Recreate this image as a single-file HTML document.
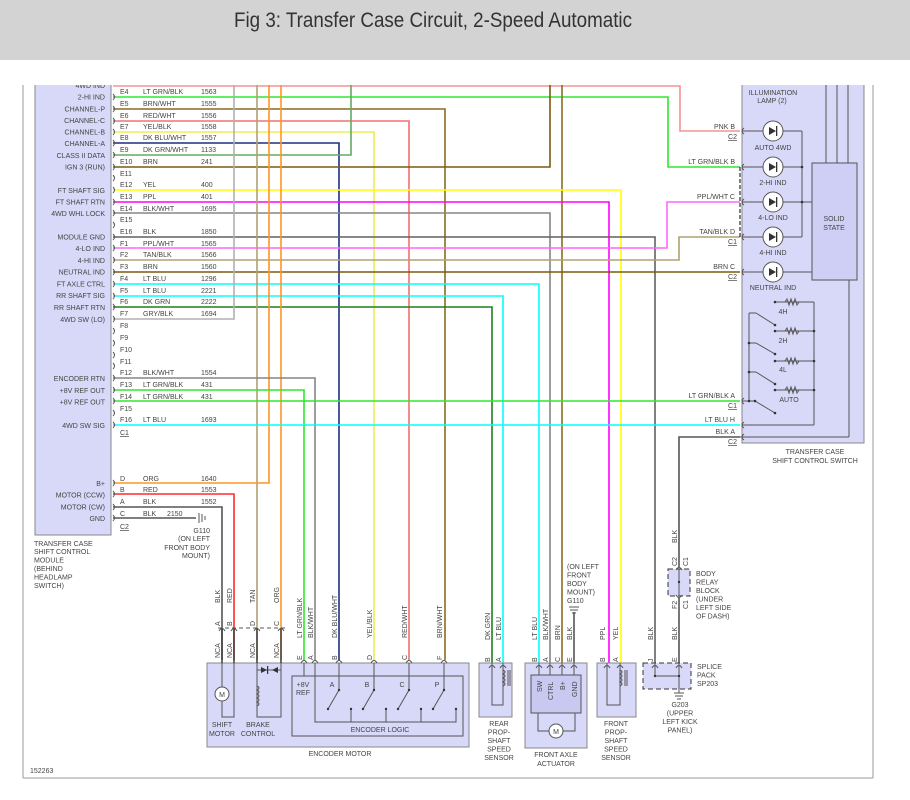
<!DOCTYPE html>
<html><head><meta charset="utf-8">
<style>
html,body{margin:0;padding:0;background:#fff;}
svg{display:block;}
text{font-family:"Liberation Sans",Arial,sans-serif;fill:#444;font-size:7px;}
.t{font-size:7.3px;}
.title{font-family:"Liberation Sans Narrow","Liberation Sans",sans-serif;font-size:21px;fill:#333;}
.w{fill:none;stroke-width:1.6;}
.k{fill:none;stroke:#555;stroke-width:1;}
</style></head><body>
<svg width="910" height="800" viewBox="0 0 910 800" xmlns="http://www.w3.org/2000/svg">
<rect x="0" y="0" width="910" height="60" fill="#d3d3d3"/>
<text class="title" x="234" y="27" textLength="398" lengthAdjust="spacingAndGlyphs">Fig 3: Transfer Case Circuit, 2-Speed Automatic</text>

<!-- borders -->
<line x1="23" y1="85" x2="23" y2="778" stroke="#999" stroke-width="1"/>
<line x1="873" y1="85" x2="873" y2="778" stroke="#999" stroke-width="1"/>
<line x1="23" y1="778" x2="873" y2="778" stroke="#999" stroke-width="1"/>

<!-- module -->
<rect x="35" y="85" width="76" height="450" fill="#d8d8f8"/>
<polyline points="35,85 35,535 111,535 111,85" fill="none" stroke="#888" stroke-width="1"/>
<g class="t" text-anchor="end">
<text x="105" y="88">4WD IND</text>
<text x="105" y="99.5">2-HI IND</text>
<text x="105" y="111.5">CHANNEL-P</text>
<text x="105" y="123">CHANNEL-C</text>
<text x="105" y="134.5">CHANNEL-B</text>
<text x="105" y="146">CHANNEL-A</text>
<text x="105" y="158">CLASS II DATA</text>
<text x="105" y="169.5">IGN 3 (RUN)</text>
<text x="105" y="193">FT SHAFT SIG</text>
<text x="105" y="204.5">FT SHAFT RTN</text>
<text x="105" y="216">4WD WHL LOCK</text>
<text x="105" y="239.5">MODULE GND</text>
<text x="105" y="251">4-LO IND</text>
<text x="105" y="263">4-HI IND</text>
<text x="105" y="274.5">NEUTRAL IND</text>
<text x="105" y="286.5">FT AXLE CTRL</text>
<text x="105" y="298">RR SHAFT SIG</text>
<text x="105" y="310">RR SHAFT RTN</text>
<text x="105" y="322">4WD SW (LO)</text>
<text x="105" y="381">ENCODER RTN</text>
<text x="105" y="393">+8V REF OUT</text>
<text x="105" y="404.5">+8V REF OUT</text>
<text x="105" y="428">4WD SW SIG</text>
<text x="105" y="486">B+</text>
<text x="105" y="497.5">MOTOR (CCW)</text>
<text x="105" y="509.5">MOTOR (CW)</text>
<text x="105" y="521">GND</text>
</g>
<rect x="24" y="60" width="848" height="25" fill="#fff"/>
<g class="t">
<text x="34" y="546">TRANSFER CASE</text>
<text x="34" y="554">SHIFT CONTROL</text>
<text x="34" y="562.5">MODULE</text>
<text x="34" y="571">(BEHIND</text>
<text x="34" y="579.5">HEADLAMP</text>
<text x="34" y="588">SWITCH)</text>
<text x="30" y="773">152263</text>
</g>

<!-- wires -->
<g class="w">
<polyline points="113,86 680,86 680,131 740,131" stroke="#f49494"/>
<polyline points="113,97 668,97 668,167 740,167" stroke="#2ee82e"/>
<polyline points="113,109 445,109 445,660" stroke="#8a6c20"/>
<polyline points="113,121 409,121 409,660" stroke="#f27070"/>
<polyline points="113,132 374,132 374,660" stroke="#eded55"/>
<polyline points="113,143 339,143 339,660" stroke="#1e2e80"/>
<polyline points="113,155 351,155 351,85" stroke="#62aa62"/>
<polyline points="113,167 550,167 550,85" stroke="#7a5a10"/>
<polyline points="562,85 562,665" stroke="#8a6c20"/>
<polyline points="113,190 621,190 621,665" stroke="#ffff00"/>
<polyline points="113,202 609,202 609,665" stroke="#ff00ff"/>
<polyline points="113,213 550,213 550,665" stroke="#858585"/>
<polyline points="113,237 655,237 655,665" stroke="#606060"/>
<polyline points="113,248 667,248 667,202 740,202" stroke="#ff66ff"/>
<polyline points="113,260 679,260 679,237 740,237" stroke="#b0a275"/>
<polyline points="113,272 740,272" stroke="#7a5a10"/>
<polyline points="113,284 539,284 539,665" stroke="#00ffff"/>
<polyline points="113,296 503,296 503,665" stroke="#00ffff"/>
<polyline points="113,307 492,307 492,665" stroke="#1f801f"/>
<polyline points="113,319 234,319 234,85" stroke="#b0b0b0"/>
<polyline points="257,85 257,660" stroke="#b0a275"/>
<polyline points="113,483 269,483 269,85" stroke="#ff9522"/>
<polyline points="281,85 281,660" stroke="#ff9522"/>
<polyline points="113,378 315,378 315,660" stroke="#858585"/>
<polyline points="113,390 304,390 304,660" stroke="#2ee82e"/>
<polyline points="113,401 740,401" stroke="#2ee82e"/>
<polyline points="113,425 740,425" stroke="#00ffff"/>
<polyline points="113,494 234,494 234,660" stroke="#ff2a2a"/>
<polyline points="113,507 222,507 222,660" stroke="#555"/>
<polyline points="113,518 196,518" stroke="#555"/>
<polyline points="740,437 679,437 679,567" stroke="#555"/>
<polyline points="679,598 679,665" stroke="#555"/>
<polyline points="574,612 574,665" stroke="#555"/>
</g>

<!-- module pin marks and labels -->
<g class="k">
<path d="M113,94 q3,3 0,6"/><path d="M113,106 q3,3 0,6"/><path d="M113,118 q3,3 0,6"/><path d="M113,129 q3,3 0,6"/><path d="M113,140 q3,3 0,6"/><path d="M113,152 q3,3 0,6"/><path d="M113,164 q3,3 0,6"/><path d="M113,175 q3,3 0,6"/><path d="M113,187 q3,3 0,6"/><path d="M113,199 q3,3 0,6"/><path d="M113,210 q3,3 0,6"/><path d="M113,222 q3,3 0,6"/><path d="M113,234 q3,3 0,6"/><path d="M113,245 q3,3 0,6"/><path d="M113,257 q3,3 0,6"/><path d="M113,269 q3,3 0,6"/><path d="M113,281 q3,3 0,6"/><path d="M113,293 q3,3 0,6"/><path d="M113,304 q3,3 0,6"/><path d="M113,316 q3,3 0,6"/><path d="M113,328 q3,3 0,6"/><path d="M113,340 q3,3 0,6"/><path d="M113,352 q3,3 0,6"/><path d="M113,363 q3,3 0,6"/><path d="M113,375 q3,3 0,6"/><path d="M113,387 q3,3 0,6"/><path d="M113,398 q3,3 0,6"/><path d="M113,410 q3,3 0,6"/><path d="M113,422 q3,3 0,6"/><path d="M113,480 q3,3 0,6"/><path d="M113,491 q3,3 0,6"/><path d="M113,504 q3,3 0,6"/><path d="M113,515 q3,3 0,6"/>
</g>
<g>
<text x="120" y="94">E4</text><text x="143" y="94">LT GRN/BLK</text><text x="201" y="94">1563</text>
<text x="120" y="106">E5</text><text x="143" y="106">BRN/WHT</text><text x="201" y="106">1555</text>
<text x="120" y="118">E6</text><text x="143" y="118">RED/WHT</text><text x="201" y="118">1556</text>
<text x="120" y="129">E7</text><text x="143" y="129">YEL/BLK</text><text x="201" y="129">1558</text>
<text x="120" y="140">E8</text><text x="143" y="140">DK BLU/WHT</text><text x="201" y="140">1557</text>
<text x="120" y="152">E9</text><text x="143" y="152">DK GRN/WHT</text><text x="201" y="152">1133</text>
<text x="120" y="164">E10</text><text x="143" y="164">BRN</text><text x="201" y="164">241</text>
<text x="120" y="176">E11</text>
<text x="120" y="187">E12</text><text x="143" y="187">YEL</text><text x="201" y="187">400</text>
<text x="120" y="199">E13</text><text x="143" y="199">PPL</text><text x="201" y="199">401</text>
<text x="120" y="211">E14</text><text x="143" y="211">BLK/WHT</text><text x="201" y="211">1695</text>
<text x="120" y="222">E15</text>
<text x="120" y="234">E16</text><text x="143" y="234">BLK</text><text x="201" y="234">1850</text>
<text x="120" y="246">F1</text><text x="143" y="246">PPL/WHT</text><text x="201" y="246">1565</text>
<text x="120" y="257">F2</text><text x="143" y="257">TAN/BLK</text><text x="201" y="257">1566</text>
<text x="120" y="269">F3</text><text x="143" y="269">BRN</text><text x="201" y="269">1560</text>
<text x="120" y="281">F4</text><text x="143" y="281">LT BLU</text><text x="201" y="281">1296</text>
<text x="120" y="293">F5</text><text x="143" y="293">LT BLU</text><text x="201" y="293">2221</text>
<text x="120" y="304">F6</text><text x="143" y="304">DK GRN</text><text x="201" y="304">2222</text>
<text x="120" y="316">F7</text><text x="143" y="316">GRY/BLK</text><text x="201" y="316">1694</text>
<text x="120" y="328">F8</text><text x="120" y="340">F9</text><text x="120" y="352">F10</text><text x="120" y="364">F11</text>
<text x="120" y="375">F12</text><text x="143" y="375">BLK/WHT</text><text x="201" y="375">1554</text>
<text x="120" y="387">F13</text><text x="143" y="387">LT GRN/BLK</text><text x="201" y="387">431</text>
<text x="120" y="399">F14</text><text x="143" y="399">LT GRN/BLK</text><text x="201" y="399">431</text>
<text x="120" y="411">F15</text>
<text x="120" y="422">F16</text><text x="143" y="422">LT BLU</text><text x="201" y="422">1693</text>
<text x="120" y="435" text-decoration="underline">C1</text>
<text x="120" y="481">D</text><text x="143" y="481">ORG</text><text x="201" y="481">1640</text>
<text x="120" y="492">B</text><text x="143" y="492">RED</text><text x="201" y="492">1553</text>
<text x="120" y="504">A</text><text x="143" y="504">BLK</text><text x="201" y="504">1552</text>
<text x="120" y="516">C</text><text x="143" y="516">BLK</text><text x="167" y="516">2150</text>
<text x="120" y="529" text-decoration="underline">C2</text>
</g>
<!-- G110 left -->
<g stroke="#555" stroke-width="1"><line x1="199" y1="513" x2="199" y2="523"/><line x1="202" y1="514" x2="202" y2="522"/><line x1="205" y1="516" x2="205" y2="520"/></g>
<g text-anchor="end"><text x="210" y="533">G110</text><text x="210" y="541">(ON LEFT</text><text x="210" y="550">FRONT BODY</text><text x="210" y="558">MOUNT)</text></g>

<!-- switch box -->
<rect x="742" y="85" width="122" height="358" fill="#d8d8f8"/>
<polyline points="742,85 742,443 864,443 864,85" fill="none" stroke="#888" stroke-width="1"/>
<g stroke="#555" stroke-width="1" fill="none">
<line x1="826" y1="85" x2="826" y2="163"/><line x1="837" y1="85" x2="837" y2="163"/><line x1="848" y1="85" x2="848" y2="163"/>
<line x1="849" y1="280" x2="849" y2="437"/><line x1="740" y1="437" x2="849" y2="437"/>
<line x1="742" y1="131" x2="802" y2="131"/><line x1="742" y1="167" x2="802" y2="167"/><line x1="742" y1="202" x2="812" y2="202"/><line x1="742" y1="237" x2="802" y2="237"/><line x1="742" y1="272" x2="812" y2="272"/>
<line x1="802" y1="131" x2="802" y2="237"/>
<line x1="775" y1="302" x2="814" y2="302"/><line x1="775" y1="331" x2="814" y2="331"/><line x1="775" y1="361" x2="814" y2="361"/><line x1="775" y1="390" x2="814" y2="390"/>
<line x1="814" y1="302" x2="814" y2="425"/><line x1="742" y1="425" x2="814" y2="425"/>
<line x1="749" y1="313" x2="749" y2="401"/><line x1="742" y1="401" x2="755" y2="401"/>
<line x1="749" y1="313" x2="756" y2="313"/><line x1="756" y1="313" x2="775" y2="325"/>
<line x1="749" y1="343" x2="756" y2="343"/><line x1="756" y1="343" x2="775" y2="354"/>
<line x1="749" y1="372" x2="756" y2="372"/><line x1="756" y1="372" x2="775" y2="384"/>
<line x1="755" y1="401" x2="775" y2="413"/>
<line x1="740" y1="167" x2="740" y2="237" stroke="#000" stroke-dasharray="4,2"/>
</g>
<g fill="#fff" stroke="#555" stroke-width="1">
<path d="M785,302 l2,-3 l2,6 l2,-6 l2,6 l2,-6 l2,6 l2,-3" fill="none"/>
<path d="M785,331 l2,-3 l2,6 l2,-6 l2,6 l2,-6 l2,6 l2,-3" fill="none"/>
<path d="M785,361 l2,-3 l2,6 l2,-6 l2,6 l2,-6 l2,6 l2,-3" fill="none"/>
<path d="M785,390 l2,-3 l2,6 l2,-6 l2,6 l2,-6 l2,6 l2,-3" fill="none"/>
<rect x="812" y="163" width="45" height="117" fill="#cfcff5"/>
<circle cx="773" cy="131" r="10"/><circle cx="773" cy="167" r="10"/><circle cx="773" cy="202" r="10"/><circle cx="773" cy="237" r="10"/><circle cx="773" cy="272" r="10"/>
</g>
<g fill="#333">
<path d="M769,127 l0,8 l7,-4z"/><path d="M769,163 l0,8 l7,-4z"/><path d="M769,198 l0,8 l7,-4z"/><path d="M769,233 l0,8 l7,-4z"/><path d="M769,268 l0,8 l7,-4z"/>
<rect x="776" y="126" width="1.3" height="10"/><rect x="776" y="162" width="1.3" height="10"/><rect x="776" y="197" width="1.3" height="10"/><rect x="776" y="232" width="1.3" height="10"/><rect x="776" y="267" width="1.3" height="10"/>
<circle cx="802" cy="167" r="1.3"/><circle cx="802" cy="202" r="1.3"/><circle cx="814" cy="331" r="1.3"/><circle cx="814" cy="361" r="1.3"/><circle cx="814" cy="390" r="1.3"/>
<circle cx="749" cy="343" r="1.3"/><circle cx="749" cy="372" r="1.3"/><circle cx="749" cy="401" r="1.3"/><circle cx="755" cy="401" r="1.3"/>
<circle cx="775" cy="325" r="1.3"/><circle cx="775" cy="354" r="1.3"/><circle cx="775" cy="384" r="1.3"/><circle cx="775" cy="413" r="1.3"/>
<circle cx="775" cy="302" r="1.3"/><circle cx="775" cy="331" r="1.3"/><circle cx="775" cy="361" r="1.3"/><circle cx="775" cy="390" r="1.3"/>
</g>
<g class="k">
<path d="M744,128 q-4,3 0,6"/><path d="M744,164 q-4,3 0,6"/><path d="M744,199 q-4,3 0,6"/><path d="M744,234 q-4,3 0,6"/><path d="M744,269 q-4,3 0,6"/><path d="M744,398 q-4,3 0,6"/><path d="M744,422 q-4,3 0,6"/><path d="M744,434 q-4,3 0,6"/>
</g>
<g text-anchor="middle">
<text x="773" y="95">ILLUMINATION</text><text x="772" y="103">LAMP (2)</text>
<text x="773" y="150">AUTO 4WD</text><text x="773" y="185">2-HI IND</text><text x="773" y="220">4-LO IND</text><text x="773" y="255">4-HI IND</text><text x="773" y="290">NEUTRAL IND</text>
<text x="834" y="221">SOLID</text><text x="834" y="230">STATE</text>
<text x="783" y="314">4H</text><text x="783" y="343">2H</text><text x="783" y="372">4L</text><text x="789" y="402">AUTO</text>
<text x="815" y="454">TRANSFER CASE</text><text x="815" y="463">SHIFT CONTROL SWITCH</text>
</g>
<g text-anchor="end">
<text x="735" y="129">PNK  B</text><text x="737" y="139" text-decoration="underline">C2</text>
<text x="735" y="164">LT GRN/BLK  B</text>
<text x="735" y="199">PPL/WHT  C</text>
<text x="735" y="234">TAN/BLK  D</text><text x="737" y="244" text-decoration="underline">C1</text>
<text x="735" y="269">BRN  C</text><text x="737" y="279" text-decoration="underline">C2</text>
<text x="735" y="398">LT GRN/BLK  A</text><text x="737" y="408" text-decoration="underline">C1</text>
<text x="735" y="422">LT BLU  H</text>
<text x="735" y="434">BLK  A</text><text x="737" y="444" text-decoration="underline">C2</text>
</g>

<!-- encoder motor -->
<rect x="207" y="663" width="262" height="84" fill="#d8d8f8" stroke="#888" stroke-width="1"/>
<rect x="292" y="676" width="171" height="60" fill="none" stroke="#555" stroke-width="1"/>
<g stroke="#333" stroke-width="1.4" fill="none">
<line x1="222" y1="628" x2="222" y2="663"/><line x1="234" y1="628" x2="234" y2="663"/><line x1="257" y1="628" x2="257" y2="663"/><line x1="281" y1="628" x2="281" y2="663"/>
</g>
<g stroke="#555" stroke-width="1" fill="none">
<line x1="218" y1="628" x2="287" y2="628" stroke-dasharray="4,3"/>
<polyline points="222,663 222,717 234,717 234,663"/>
<polyline points="257,663 257,717 281,717 281,663"/>
<path d="M257,686 q4,2 0,4 q4,2 0,4 q4,2 0,4 q4,2 0,4 q4,2 0,4"/>
<line x1="257" y1="670" x2="281" y2="670"/>
<polyline points="304,663 304,676"/>
<polyline points="315,663 315,722 456,722 456,710"/>
<line x1="339" y1="663" x2="339" y2="690"/><line x1="374" y1="663" x2="374" y2="690"/><line x1="409" y1="663" x2="409" y2="690"/><line x1="444" y1="663" x2="444" y2="690"/>
<line x1="339" y1="690" x2="328" y2="709"/><line x1="374" y1="690" x2="363" y2="709"/><line x1="409" y1="690" x2="398" y2="709"/><line x1="444" y1="690" x2="433" y2="709"/>
<line x1="351" y1="709" x2="351" y2="722"/><line x1="386" y1="709" x2="386" y2="722"/><line x1="421" y1="709" x2="421" y2="722"/>
</g>
<circle cx="222" cy="694" r="7" fill="#fff" stroke="#555"/><text x="222" y="697" text-anchor="middle">M</text>
<g fill="#333"><path d="M261,667 l0,6 l6,-3z"/><rect x="267" y="666" width="1.2" height="8"/><path d="M278,667 l0,6 l-6,-3z"/>
<circle cx="328" cy="709" r="1.2"/><circle cx="363" cy="709" r="1.2"/><circle cx="398" cy="709" r="1.2"/><circle cx="433" cy="709" r="1.2"/><circle cx="339" cy="690" r="1.2"/><circle cx="374" cy="690" r="1.2"/><circle cx="409" cy="690" r="1.2"/><circle cx="444" cy="690" r="1.2"/><circle cx="351" cy="709" r="1.2"/><circle cx="386" cy="709" r="1.2"/><circle cx="421" cy="709" r="1.2"/><circle cx="456" cy="709" r="1.2"/></g>
<g text-anchor="middle">
<text x="222" y="727">SHIFT</text><text x="222" y="736">MOTOR</text>
<text x="258" y="727">BRAKE</text><text x="258" y="736">CONTROL</text>
<text x="303" y="687">+8V</text><text x="303" y="695">REF</text>
<text x="332" y="687">A</text><text x="367" y="687">B</text><text x="402" y="687">C</text><text x="437" y="687">P</text>
<text x="380" y="732">ENCODER LOGIC</text>
<text x="340" y="756">ENCODER MOTOR</text>
</g>

<!-- sensors & actuator -->
<rect x="479" y="663" width="33" height="54" fill="#d8d8f8" stroke="#888"/>
<rect x="597" y="663" width="39" height="54" fill="#d8d8f8" stroke="#888"/>
<rect x="525" y="663" width="62" height="85" fill="#d8d8f8" stroke="#888"/>
<rect x="531" y="675" width="50" height="38" fill="#c8c8f0" stroke="#555"/>
<g stroke="#555" stroke-width="1" fill="none">
<polyline points="492,663 492,705 503,705 503,663"/>
<polyline points="607,663 607,705 620,705 620,663"/>
<path d="M503,670 q4,2 0,4 q4,2 0,4 q4,2 0,4 q4,2 0,4"/>
<path d="M620,670 q4,2 0,4 q4,2 0,4 q4,2 0,4 q4,2 0,4"/>
<line x1="508" y1="670" x2="508" y2="686"/><line x1="510" y1="670" x2="510" y2="686"/>
<line x1="625" y1="670" x2="625" y2="686"/><line x1="627" y1="670" x2="627" y2="686"/>
<polyline points="538,713 538,731 549,731"/><polyline points="575,713 575,731 563,731"/>
<line x1="539" y1="663" x2="539" y2="675"/><line x1="550" y1="663" x2="550" y2="675"/><line x1="562" y1="663" x2="562" y2="675"/><line x1="574" y1="663" x2="574" y2="675"/>
</g>
<circle cx="556" cy="731" r="7" fill="#fff" stroke="#555"/><text x="556" y="734" text-anchor="middle">M</text>
<g text-anchor="middle">
<text x="499" y="726">REAR</text><text x="499" y="734.5">PROP-</text><text x="499" y="743">SHAFT</text><text x="499" y="751.5">SPEED</text><text x="499" y="760">SENSOR</text>
<text x="556" y="757">FRONT AXLE</text><text x="556" y="766">ACTUATOR</text>
<text x="616" y="726">FRONT</text><text x="616" y="734.5">PROP-</text><text x="616" y="743">SHAFT</text><text x="616" y="751.5">SPEED</text><text x="616" y="760">SENSOR</text>
</g>
<g><text x="567" y="569">(ON LEFT</text><text x="567" y="577.5">FRONT</text><text x="567" y="586">BODY</text><text x="567" y="594.5">MOUNT)</text><text x="567" y="603">G110</text></g>
<g stroke="#555" stroke-width="1"><line x1="569" y1="607" x2="579" y2="607"/><line x1="570" y1="610" x2="578" y2="610"/><line x1="572" y1="613" x2="576" y2="613"/></g>

<!-- splice pack and relay -->
<rect x="643" y="663" width="48" height="26" fill="#d8d8f8" stroke="#333" stroke-dasharray="5,3"/>
<g stroke="#555" stroke-width="1" fill="none"><line x1="655" y1="663" x2="655" y2="676"/><line x1="655" y1="676" x2="679" y2="676"/><line x1="679" y1="663" x2="679" y2="693"/>
<line x1="674" y1="693" x2="684" y2="693"/><line x1="675" y1="696" x2="683" y2="696"/><line x1="677" y1="699" x2="681" y2="699"/></g>
<rect x="668" y="569" width="22" height="27" fill="#d8d8f8" stroke="#333" stroke-dasharray="5,3"/>
<line x1="679" y1="569" x2="679" y2="596" stroke="#555"/>
<circle cx="679" cy="582" r="1.2" fill="#333"/><circle cx="655" cy="676" r="1.2" fill="#333"/><circle cx="679" cy="676" r="1.2" fill="#333"/>
<g><text x="697" y="669">SPLICE</text><text x="697" y="677.5">PACK</text><text x="697" y="686">SP203</text>
<text x="696" y="576">BODY</text><text x="696" y="584.5">RELAY</text><text x="696" y="593">BLOCK</text><text x="696" y="601.5">(UNDER</text><text x="696" y="610">LEFT SIDE</text><text x="696" y="618.5">OF DASH)</text></g>
<g text-anchor="middle"><text x="680" y="707">G203</text><text x="680" y="715.5">(UPPER</text><text x="680" y="724">LEFT KICK</text><text x="680" y="732.5">PANEL)</text></g>

<!-- connector arcs bottom -->
<g class="k">
<path d="M219,631 q3,-5 6,0"/><path d="M231,631 q3,-5 6,0"/><path d="M254,631 q3,-5 6,0"/><path d="M278,631 q3,-5 6,0"/>
<path d="M301,663 q3,-5 6,0"/><path d="M312,663 q3,-5 6,0"/><path d="M336,663 q3,-5 6,0"/><path d="M371,663 q3,-5 6,0"/><path d="M406,663 q3,-5 6,0"/><path d="M441,663 q3,-5 6,0"/>
<path d="M489,668 q3,-5 6,0"/><path d="M500,668 q3,-5 6,0"/><path d="M536,668 q3,-5 6,0"/><path d="M547,668 q3,-5 6,0"/><path d="M559,668 q3,-5 6,0"/><path d="M571,668 q3,-5 6,0"/>
<path d="M604,668 q3,-5 6,0"/><path d="M617,668 q3,-5 6,0"/><path d="M652,668 q3,-5 6,0"/><path d="M676,668 q3,-5 6,0"/>
<path d="M676,570 q3,-5 6,0"/><path d="M676,595 q3,5 6,0"/>
</g>

<!-- rotated labels -->
<g>
<text transform="translate(220,603) rotate(-90)">BLK</text><text transform="translate(232,603) rotate(-90)">RED</text><text transform="translate(255,603) rotate(-90)">TAN</text><text transform="translate(279,603) rotate(-90)">ORG</text>
<text transform="translate(220,626) rotate(-90)">A</text><text transform="translate(232,626) rotate(-90)">B</text><text transform="translate(255,626) rotate(-90)">D</text><text transform="translate(279,626) rotate(-90)">C</text>
<text transform="translate(220,658) rotate(-90)">NCA</text><text transform="translate(232,658) rotate(-90)">NCA</text><text transform="translate(255,658) rotate(-90)">NCA</text><text transform="translate(279,658) rotate(-90)">NCA</text>
<text transform="translate(302,638) rotate(-90)">LT GRN/BLK</text><text transform="translate(313,638) rotate(-90)">BLK/WHT</text><text transform="translate(337,638) rotate(-90)">DK BLU/WHT</text><text transform="translate(372,638) rotate(-90)">YEL/BLK</text><text transform="translate(407,638) rotate(-90)">RED/WHT</text><text transform="translate(442,638) rotate(-90)">BRN/WHT</text>
<text transform="translate(302,660) rotate(-90)">E</text><text transform="translate(313,660) rotate(-90)">A</text><text transform="translate(337,660) rotate(-90)">B</text><text transform="translate(372,660) rotate(-90)">D</text><text transform="translate(407,660) rotate(-90)">C</text><text transform="translate(442,660) rotate(-90)">F</text>
<text transform="translate(490,640) rotate(-90)">DK GRN</text><text transform="translate(501,640) rotate(-90)">LT BLU</text>
<text transform="translate(537,640) rotate(-90)">LT BLU</text><text transform="translate(548,640) rotate(-90)">BLK/WHT</text><text transform="translate(560,640) rotate(-90)">BRN</text><text transform="translate(572,640) rotate(-90)">BLK</text>
<text transform="translate(605,640) rotate(-90)">PPL</text><text transform="translate(618,640) rotate(-90)">YEL</text>
<text transform="translate(653,640) rotate(-90)">BLK</text><text transform="translate(677,640) rotate(-90)">BLK</text><text transform="translate(677,543) rotate(-90)">BLK</text>
<text transform="translate(490,662) rotate(-90)">B</text><text transform="translate(501,662) rotate(-90)">A</text><text transform="translate(537,662) rotate(-90)">B</text><text transform="translate(548,662) rotate(-90)">A</text><text transform="translate(560,662) rotate(-90)">C</text><text transform="translate(572,662) rotate(-90)">E</text>
<text transform="translate(605,662) rotate(-90)">B</text><text transform="translate(618,662) rotate(-90)">A</text><text transform="translate(653,662) rotate(-90)">J</text><text transform="translate(677,662) rotate(-90)">E</text>
<text transform="translate(677,566) rotate(-90)">C2</text><text transform="translate(688,566) rotate(-90)">C1</text><text transform="translate(677,609) rotate(-90)">F2</text><text transform="translate(688,609) rotate(-90)">C1</text>
<text transform="translate(542,692) rotate(-90)">SW</text><text transform="translate(553,700) rotate(-90)">CTRL</text><text transform="translate(565,690) rotate(-90)">B+</text><text transform="translate(577,697) rotate(-90)">GND</text>
</g>
</svg>
</body></html>
